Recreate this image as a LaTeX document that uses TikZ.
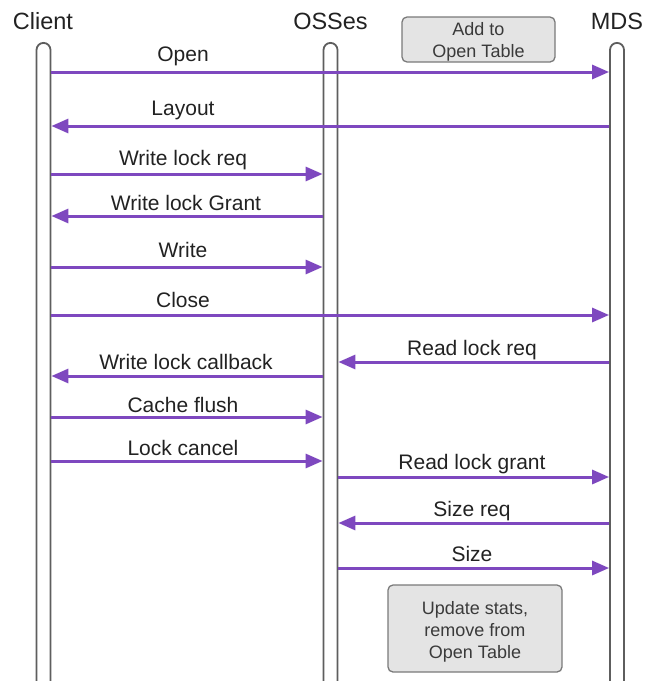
\documentclass[tikz,border=0pt]{standalone}
\usepackage{fontspec}
\setmainfont{Liberation Sans}
\usetikzlibrary{arrows.meta}
\definecolor{msgpurple}{HTML}{7E48BF}
\definecolor{lifegray}{HTML}{5E5E5E}
\definecolor{notefill}{HTML}{E4E4E4}
\definecolor{notedraw}{HTML}{7A7A7A}
\definecolor{labeltext}{HTML}{222222}
\definecolor{notetext}{HTML}{3A3A3A}
\begin{document}
\begin{tikzpicture}[x=1pt,y={(0pt,-1pt)},
  lifeline/.style={draw=lifegray, line width=1.8pt, fill=white, rounded corners=7pt,
    minimum width=14pt, minimum height=720pt, inner sep=0pt, anchor=north},
  actor/.style={font=\fontsize{23.5}{26}\selectfont, text=labeltext, anchor=base, inner sep=0pt},
  msg/.style={draw=msgpurple, line width=3pt, -{Triangle[length=17pt, width=14pt]}},
  lbl/.style={font=\fontsize{21}{24}\selectfont, text=labeltext, anchor=base, inner sep=0pt},
  note/.style={draw=notedraw, fill=notefill, line width=1.3pt, rounded corners=5pt, inner sep=0pt},
  notelabel/.style={font=\fontsize{18}{22}\selectfont, text=notetext, align=center, inner sep=0pt}]
  \clip (0,0) rectangle (653,681);
  \fill[white] (0,0) rectangle (653,681);

  % actor titles
  \node[actor] (tclient) at (43,29) {Client};
  \node[actor] (toss) at (330.5,29) {OSSes};
  \node[actor] (tmds) at (617,29) {MDS};

  % lifelines
  \node[lifeline] (client) at (43.5,42) {};
  \node[lifeline] (oss) at (330.5,42) {};
  \node[lifeline] (mds) at (617,42) {};

  % notes on the MDS side
  \node[note, minimum width=153pt, minimum height=45pt] (addnote) at (478.5,39.5) {};
  \node[notelabel] (addtext) at ([yshift=-2.5pt]addnote.center) {Add to\\Open Table};
  \node[note, minimum width=174pt, minimum height=87pt] (updnote) at (475,628.5) {};
  \node[notelabel] (updtext) at ([yshift=-3pt]updnote.center) {Update stats,\\remove from\\Open Table};

  % messages
  \draw[msg] (client.east |- 0,72) -- (mds.west |- 0,72);
  \node[lbl] (lopen) at (183,61) {Open};

  \draw[msg] (mds.west |- 0,126) -- (client.east |- 0,126);
  \node[lbl] (llayout) at (183,115) {Layout};

  \draw[msg] (client.east |- 0,174) -- (oss.west |- 0,174);
  \node[lbl] (lwlr) at (183,165) {Write lock req};

  \draw[msg] (oss.west |- 0,216) -- (client.east |- 0,216);
  \node[lbl] (lwlg) at (186,210) {Write lock Grant};

  \draw[msg] (client.east |- 0,267) -- (oss.west |- 0,267);
  \node[lbl] (lwrite) at (183,257) {Write};

  \draw[msg] (client.east |- 0,315) -- (mds.west |- 0,315);
  \node[lbl] (lclose) at (183,307) {Close};

  \draw[msg] (mds.west |- 0,362) -- (oss.east |- 0,362);
  \node[lbl] (lrlr) at (472,355) {Read lock req};

  \draw[msg] (oss.west |- 0,376) -- (client.east |- 0,376);
  \node[lbl] (lwlc) at (186,369) {Write lock callback};

  \draw[msg] (client.east |- 0,417) -- (oss.west |- 0,417);
  \node[lbl] (lcf) at (183,412) {Cache flush};

  \draw[msg] (client.east |- 0,461) -- (oss.west |- 0,461);
  \node[lbl] (llc) at (183,455) {Lock cancel};

  \draw[msg] (oss.east |- 0,477) -- (mds.west |- 0,477);
  \node[lbl] (lrlg) at (472,469) {Read lock grant};

  \draw[msg] (mds.west |- 0,523) -- (oss.east |- 0,523);
  \node[lbl] (lsreq) at (472,516) {Size req};

  \draw[msg] (oss.east |- 0,568) -- (mds.west |- 0,568);
  \node[lbl] (lsize) at (472,561) {Size};
\end{tikzpicture}
\end{document}
